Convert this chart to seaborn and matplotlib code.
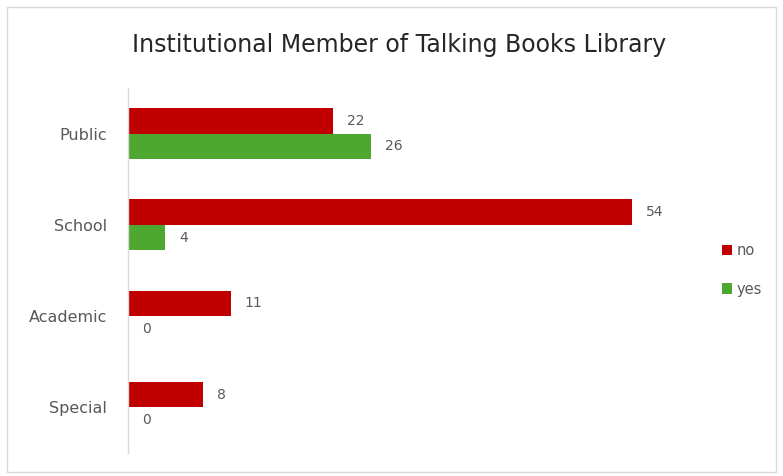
import matplotlib
matplotlib.use("Agg")
import matplotlib.pyplot as plt
import seaborn as sns
import pandas as pd
from matplotlib.patches import Rectangle

categories = ["Public", "School", "Academic", "Special"]
no_values = [22, 54, 11, 8]
yes_values = [26, 4, 0, 0]
series = ["no", "yes"]
colors = {"no": "#C00000", "yes": "#4EA72E"}

df = pd.DataFrame({
    "type": categories * 2,
    "count": no_values + yes_values,
    "member": ["no"] * len(categories) + ["yes"] * len(categories),
})

sns.set_style("white")
plt.rcParams["font.family"] = ["DejaVu Sans"]

fig = plt.figure(figsize=(7.83, 4.76), dpi=100)
ax = fig.add_axes([128 / 783, 1 - 453 / 476, 560 / 783, (453 - 88) / 476])

sns.barplot(data=df, y="type", x="count", hue="member", order=categories,
            hue_order=series, palette=colors, orient="h", width=0.56,
            saturation=1, ax=ax, legend=True, linewidth=0)

for cont in ax.containers:
    ax.bar_label(cont, padding=10, fontsize=10, color="#595959")

ax.set_xlim(0, 60)
ax.set_xlabel("")
ax.set_ylabel("")
ax.set_xticks([])
ax.tick_params(axis="y", length=0, labelsize=11.5, labelcolor="#595959", pad=15)
for s in ["top", "right", "bottom"]:
    ax.spines[s].set_visible(False)
ax.spines["left"].set_color("#D9D9D9")
ax.spines["left"].set_linewidth(1)

leg = ax.legend(loc="center left", bbox_to_anchor=(709 / 783, 1 - 270 / 476),
                bbox_transform=fig.transFigure, frameon=False, fontsize=10.5,
                handlelength=0.7, handleheight=0.7, handletextpad=0.3,
                labelspacing=1.6, labelcolor="#595959")

fig.text(399 / 783, 1 - 45 / 476, "Institutional Member of Talking Books Library",
         ha="center", va="center", fontsize=17, color="#262626")

fig.patches.append(Rectangle((7 / 783, 1 - 472 / 476), 769 / 783, 465 / 476,
                             transform=fig.transFigure, fill=False,
                             edgecolor="#D9D9D9", linewidth=1))

fig.savefig("out.png", dpi=100)
